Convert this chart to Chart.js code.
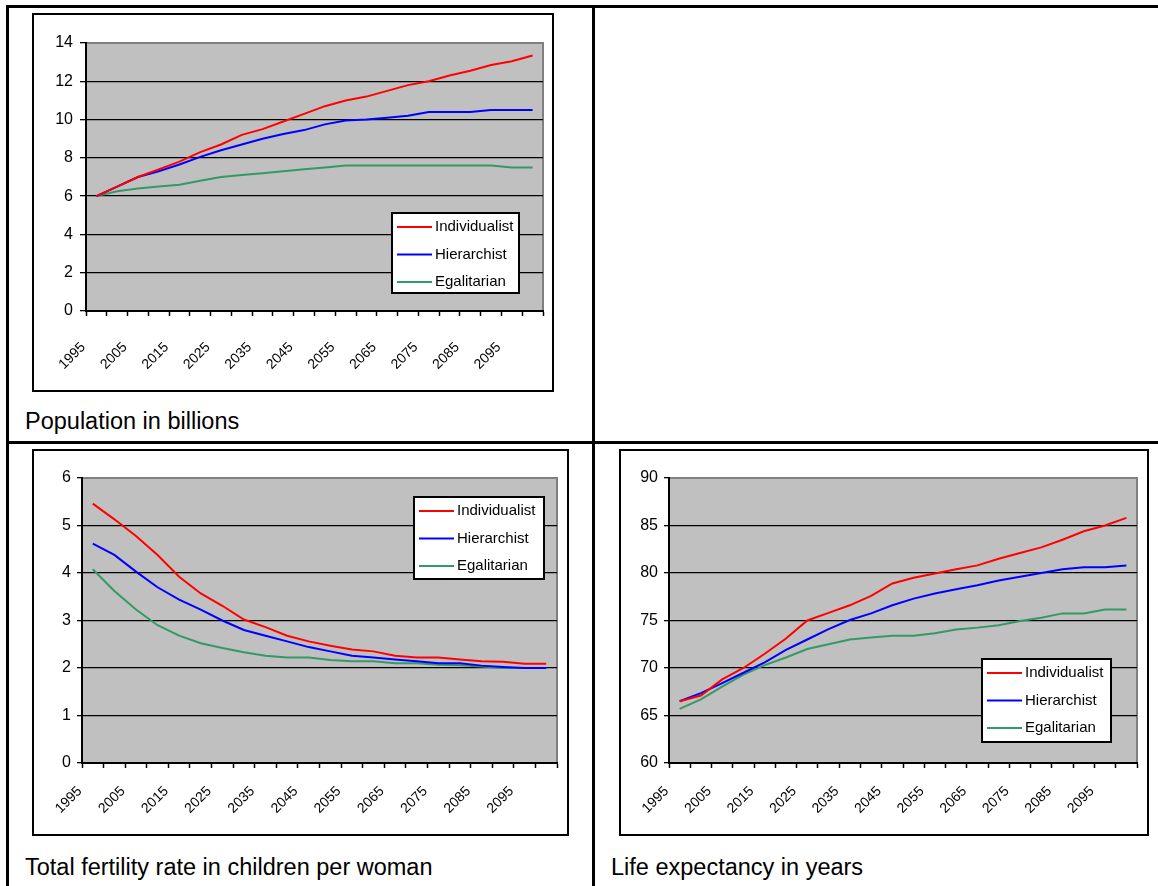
<!DOCTYPE html>
<html>
<head>
<meta charset="utf-8">
<script src="https://cdn.jsdelivr.net/npm/chart.js@4.4.1/dist/chart.umd.min.js"></script>
<style>
  body { margin: 0; background: #fff; font-family: "Liberation Sans", Arial, sans-serif; }
  .rule { position: absolute; background: #000; }
  .box { position: absolute; border: 2px solid #000; background: #fff; }
  .box canvas { display: block; }
  .caption { position: absolute; font-size: 23.5px; line-height: 24px; color: #000; white-space: nowrap; }
</style>
</head>
<body>
<!-- table rules -->
<div class="rule" style="left:6px;top:5px;width:1200px;height:3px"></div>
<div class="rule" style="left:6px;top:5px;width:3px;height:900px"></div>
<div class="rule" style="left:592px;top:5px;width:3px;height:900px"></div>
<div class="rule" style="left:6px;top:441px;width:1200px;height:3px"></div>

<div class="box" style="left:32px;top:13px;width:518px;height:375px"><canvas id="chartPop"></canvas></div>
<div class="caption" style="left:25px;top:409px">Population in billions</div>

<div class="box" style="left:32px;top:449px;width:533px;height:383px"><canvas id="chartTfr"></canvas></div>
<div class="caption" style="left:25px;top:855px">Total fertility rate in children per woman</div>

<div class="box" style="left:619px;top:449px;width:526px;height:383px"><canvas id="chartLife"></canvas></div>
<div class="caption" style="left:611px;top:855px">Life expectancy in years</div>

<script>
// categories (5-year steps)
const years = ['1995', '2000', '2005', '2010', '2015', '2020', '2025', '2030', '2035', '2040', '2045',
  '2050', '2055', '2060', '2065', '2070', '2075', '2080', '2085', '2090', '2095', '2100'];
const seriesNames = ['Individualist', 'Hierarchist', 'Egalitarian'];

// population, billions
const popIndividualist = [6.0, 6.5, 7.0, 7.4, 7.8, 8.3, 8.7, 9.2, 9.5, 9.9, 10.3, 10.7, 11.0, 11.2, 11.5, 11.8, 12.0, 12.3, 12.55, 12.85, 13.05, 13.35];
const popHierarchist = [6.0, 6.5, 7.0, 7.3, 7.65, 8.05, 8.4, 8.7, 9.0, 9.25, 9.45, 9.75, 9.95, 10.0, 10.1, 10.2, 10.4, 10.4, 10.4, 10.5, 10.5, 10.5];
const popEgalitarian = [6.0, 6.25, 6.4, 6.5, 6.6, 6.8, 7.0, 7.1, 7.2, 7.3, 7.4, 7.5, 7.6, 7.6, 7.6, 7.6, 7.6, 7.6, 7.6, 7.6, 7.5, 7.5];

// total fertility rate, children per woman
const tfrIndividualist = [5.46, 5.13, 4.78, 4.38, 3.92, 3.57, 3.31, 3.02, 2.86, 2.68, 2.56, 2.47, 2.39, 2.35, 2.26, 2.22, 2.22, 2.18, 2.14, 2.13, 2.09, 2.09];
const tfrHierarchist = [4.62, 4.38, 4.03, 3.7, 3.44, 3.23, 3.0, 2.8, 2.68, 2.56, 2.44, 2.35, 2.26, 2.22, 2.18, 2.14, 2.1, 2.1, 2.05, 2.02, 2.0, 2.0];
const tfrEgalitarian = [4.08, 3.62, 3.23, 2.9, 2.68, 2.52, 2.42, 2.33, 2.26, 2.22, 2.22, 2.17, 2.14, 2.14, 2.1, 2.1, 2.07, 2.06, 2.03, 2.0, 2.0, 2.0];

// life expectancy, years
const lifeIndividualist = [66.5, 67.1, 68.8, 70.0, 71.5, 73.1, 75.0, 75.8, 76.6, 77.6, 78.9, 79.5, 79.95, 80.4, 80.8, 81.5, 82.1, 82.7, 83.5, 84.4, 85.0, 85.8];
const lifeHierarchist = [66.5, 67.35, 68.4, 69.5, 70.6, 71.9, 73.0, 74.1, 75.05, 75.75, 76.6, 77.3, 77.85, 78.3, 78.7, 79.2, 79.6, 80.0, 80.4, 80.6, 80.6, 80.8];
const lifeEgalitarian = [65.7, 66.7, 68.05, 69.3, 70.3, 71.1, 72.0, 72.5, 73.0, 73.2, 73.4, 73.4, 73.65, 74.05, 74.25, 74.5, 74.95, 75.3, 75.75, 75.75, 76.15, 76.15];

const seriesColors = ['#ff0000', '#0000ff', '#339966'];
const FONT = '"Liberation Sans", Arial, sans-serif';

Chart.defaults.font.family = FONT;
Chart.defaults.color = '#000';

// grey plot area with a grey frame, Excel style
const plotFrame = {
  id: 'plotFrame',
  beforeDraw(chart) {
    const { ctx, chartArea: a } = chart;
    ctx.save();
    ctx.fillStyle = '#c0c0c0';
    ctx.fillRect(a.left, a.top, a.right - a.left, a.bottom - a.top);
    ctx.strokeStyle = '#808080';
    ctx.lineWidth = 2;
    ctx.strokeRect(a.left, a.top, a.right - a.left, a.bottom - a.top);
    ctx.restore();
  }
};

// boxed legend drawn inside the plot
const boxLegend = {
  id: 'boxLegend',
  afterDatasetsDraw(chart, args, o) {
    const { ctx } = chart;
    ctx.save();
    ctx.fillStyle = '#fff';
    ctx.fillRect(o.x, o.y, o.w, o.h);
    ctx.strokeStyle = '#000';
    ctx.lineWidth = 2;
    ctx.strokeRect(o.x, o.y, o.w, o.h);
    ctx.font = '15px ' + FONT;
    ctx.textBaseline = 'middle';
    chart.data.datasets.forEach((ds, i) => {
      const cy = o.y + 14 + i * 27.5;
      ctx.strokeStyle = ds.borderColor;
      ctx.lineWidth = 2;
      ctx.beginPath();
      ctx.moveTo(o.x + 5, cy);
      ctx.lineTo(o.x + 40, cy);
      ctx.stroke();
      ctx.fillStyle = '#000';
      ctx.fillText(ds.label, o.x + 43, cy);
    });
    ctx.restore();
  }
};

function makeChart(id, values, opt) {
  return new Chart(document.getElementById(id), {
    type: 'line',
    data: {
      labels: years,
      datasets: values.map((v, i) => ({
        label: seriesNames[i],
        data: v,
        borderColor: seriesColors[i],
        backgroundColor: seriesColors[i],
        borderWidth: 2,
        pointRadius: 0,
        tension: 0
      }))
    },
    options: {
      responsive: true,
      maintainAspectRatio: false,
      animation: false,
      layout: { padding: { top: opt.padTop, right: opt.padRight, bottom: 0, left: 0 } },
      plugins: {
        legend: { display: false },
        tooltip: { enabled: false },
        boxLegend: opt.legend
      },
      scales: {
        x: {
          offset: true,
          afterFit: s => {
            s.height = opt.xHeight;
            // keep the plot width fixed, labels may overhang
            s.paddingLeft = 0;
            s.paddingRight = 0;
          },
          border: { color: '#000', width: 2 },
          grid: { offset: true, drawOnChartArea: false, tickLength: 5, tickColor: '#000', tickWidth: 1.5 },
          ticks: {
            autoSkip: false,
            minRotation: 45,
            maxRotation: 45,
            labelOffset: -13,
            padding: opt.xPad,
            font: { size: 14 },
            callback: (v, i) => (i % 2 ? '' : years[i])
          }
        },
        y: {
          min: opt.min,
          max: opt.max,
          afterFit: s => { s.width = opt.yWidth; },
          border: { color: '#000', width: 2 },
          grid: {
            color: c => (c.tick && c.tick.value === opt.max ? 'rgba(0,0,0,0)' : '#000'),
            lineWidth: 1.3,
            tickLength: opt.yTick,
            tickColor: '#000'
          },
          ticks: { stepSize: opt.step, padding: opt.yPad, font: { size: 16 } }
        }
      }
    },
    plugins: [plotFrame, boxLegend]
  });
}

makeChart('chartPop', [popIndividualist, popHierarchist, popEgalitarian], {
  min: 0, max: 14, step: 2, padTop: 28, padRight: 9, xHeight: 79, yWidth: 52, yTick: 6, yPad: 7, xPad: 23,
  legend: { x: 358, y: 198, w: 127, h: 80 }
});

makeChart('chartTfr', [tfrIndividualist, tfrHierarchist, tfrEgalitarian], {
  min: 0, max: 6, step: 1, padTop: 27, padRight: 10, xHeight: 71, yWidth: 48, yTick: 5, yPad: 6, xPad: 15,
  legend: { x: 380, y: 46, w: 130, h: 82 }
});

makeChart('chartLife', [lifeIndividualist, lifeHierarchist, lifeEgalitarian], {
  min: 60, max: 90, step: 5, padTop: 27, padRight: 10, xHeight: 71, yWidth: 48, yTick: 5, yPad: 6, xPad: 15,
  legend: { x: 361, y: 208, w: 129, h: 83 }
});
</script>
</body>
</html>
